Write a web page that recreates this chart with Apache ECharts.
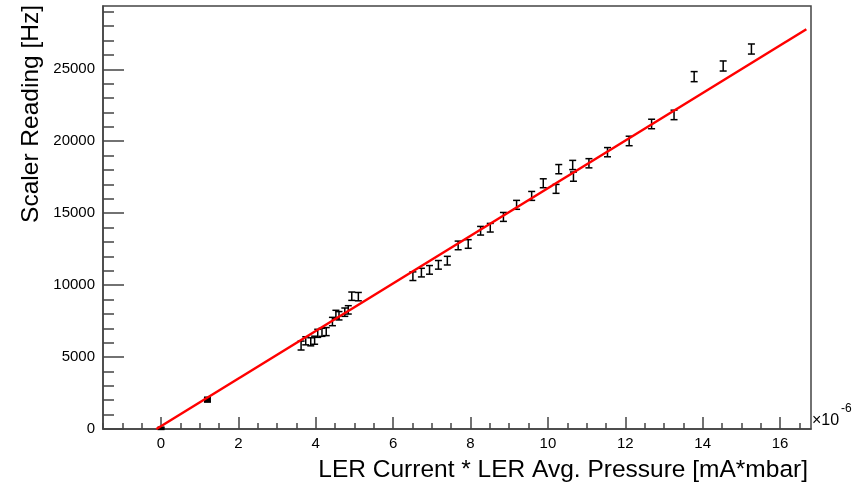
<!DOCTYPE html>
<html>
<head>
<meta charset="utf-8">
<script src="https://cdn.jsdelivr.net/npm/echarts@6/dist/echarts.min.js"></script>
<style>
html, body { margin: 0; padding: 0; background: #fff; }
#chart { width: 858px; height: 483px; }
</style>
</head>
<body>
<div id="chart"></div>
<script>
// data (x in units of 1e-6 mA*mbar)
var xs = [0, 1.20, 3.62, 3.74, 3.87, 3.97, 4.05, 4.16, 4.27, 4.43, 4.52, 4.60, 4.75, 4.84, 4.93, 5.10,
    6.51, 6.73, 6.94, 7.17, 7.40, 7.68, 7.94, 8.26, 8.51, 8.85, 9.19, 9.58, 9.88, 10.21, 10.28, 10.64, 10.66,
    11.06, 11.54, 12.10, 12.68, 13.26, 13.78, 14.53, 15.26];
var ys = [50, 2040, 5800, 6130, 6060, 6170, 6650, 6720, 6770, 7470, 7960, 7870, 8120, 8280, 9230, 9200,
    10620, 10870, 11060, 11410, 11700, 12760, 12860, 13780, 13990, 14740, 15580, 16200, 17080, 16690, 18060, 18350, 17540,
    18470, 19240, 20020, 21200, 21830, 24490, 25230, 26410];
var yErr = [80, 170, 310, 280, 280, 280, 280, 280, 280, 290, 290, 290, 290, 290, 290, 290,
    300, 300, 300, 300, 300, 300, 300, 300, 300, 310, 310, 310, 310, 310, 320, 320, 320,
    320, 320, 330, 330, 330, 350, 350, 350];
// fit line end points
var fitX = [-0.12, 16.68];
var fitY = [0, 27780];

var xMajor = [0, 2, 4, 6, 8, 10, 12, 14, 16];
var yMajor = [0, 5000, 10000, 15000, 20000, 25000];
var xMinor = [];
for (var i = -1.5; i <= 16.5; i += 0.5) xMinor.push(i);
var yMinor = [];
for (var j = 1000; j <= 29000; j += 1000) yMinor.push(j);

var points = xs.map(function (x, k) { return [x, ys[k], yErr[k]]; });
var fitLine = fitX.map(function (x, k) { return [x, fitY[k]]; });

var frameColor = '#444';
var font = '"Liberation Sans", Arial, Helvetica, sans-serif';

var chart = echarts.init(document.getElementById('chart'));
var option = {
    animation: false,
    grid: {
        left: 103, right: 47, top: 6, bottom: 54,
        show: true, borderColor: frameColor, borderWidth: 1.5
    },
    xAxis: [
        {
            type: 'value', min: -1.5, max: 16.8, position: 'bottom',
            axisLine: { show: true, onZero: false, lineStyle: { color: frameColor, width: 1.5 } },
            axisTick: { show: true, inside: true, length: 12, customValues: xMajor, lineStyle: { color: frameColor, width: 1.5 } },
            axisLabel: { customValues: xMajor, margin: 7, color: '#000', fontSize: 15, fontFamily: font },
            splitLine: { show: false }
        },
        {
            type: 'value', min: -1.5, max: 16.8, position: 'bottom',
            axisLine: { show: false, onZero: false },
            axisTick: { show: true, inside: true, length: 6, customValues: xMinor, lineStyle: { color: frameColor, width: 1.5 } },
            axisLabel: { show: false },
            splitLine: { show: false }
        }
    ],
    yAxis: [
        {
            type: 'value', min: 0, max: 29400, position: 'left',
            axisLine: { show: true, onZero: false, lineStyle: { color: frameColor, width: 1.5 } },
            axisTick: { show: true, inside: true, length: 21, customValues: yMajor, lineStyle: { color: frameColor, width: 1.5 } },
            axisLabel: {
                customValues: yMajor, margin: 8, color: '#000', fontSize: 15, fontFamily: font,
                formatter: function (v) { return String(v); }
            },
            splitLine: { show: false }
        },
        {
            type: 'value', min: 0, max: 29400, position: 'left',
            axisLine: { show: false, onZero: false },
            axisTick: { show: true, inside: true, length: 11, customValues: yMinor, lineStyle: { color: frameColor, width: 1.5 } },
            axisLabel: { show: false },
            splitLine: { show: false }
        }
    ],
    graphic: [
        {
            type: 'text', x: 31, y: 5, rotation: Math.PI / 2,
            style: { text: 'Scaler Reading [Hz]', font: '24.5px ' + font, fill: '#000', textAlign: 'right', textVerticalAlign: 'middle' }
        },
        {
            type: 'text', x: 808, y: 470,
            style: { text: 'LER Current * LER Avg. Pressure [mA*mbar]', font: '24.5px ' + font, fill: '#000', textAlign: 'right', textVerticalAlign: 'middle' }
        },
        {
            type: 'text', x: 812, y: 421,
            style: { text: '×10', font: '16px ' + font, fill: '#000', textAlign: 'left', textVerticalAlign: 'middle' }
        },
        {
            type: 'text', x: 841, y: 409,
            style: { text: '-6', font: '12px ' + font, fill: '#000', textAlign: 'left', textVerticalAlign: 'middle' }
        }
    ],
    series: [
        {
            type: 'custom',
            data: points,
            z: 2,
            renderItem: function (params, api) {
                var x = api.value(0), y = api.value(1), e = api.value(2);
                var lo = api.coord([x, y - e]);
                var hi = api.coord([x, y + e]);
                var w = 3.5;
                var st = { stroke: '#000', lineWidth: 1.5 };
                var kids = [
                    { type: 'line', shape: { x1: lo[0], y1: lo[1], x2: hi[0], y2: hi[1] }, style: st },
                    { type: 'line', shape: { x1: lo[0] - w, y1: lo[1], x2: lo[0] + w, y2: lo[1] }, style: st },
                    { type: 'line', shape: { x1: hi[0] - w, y1: hi[1], x2: hi[0] + w, y2: hi[1] }, style: st }
                ];
                // very short bars: caps merge into a solid block
                if (lo[1] - hi[1] < 6) {
                    kids.push({ type: 'rect', shape: { x: hi[0] - w, y: hi[1], width: 2 * w, height: lo[1] - hi[1] }, style: { fill: '#000' } });
                }
                return { type: 'group', children: kids };
            }
        },
        {
            type: 'line',
            data: fitLine,
            z: 3,
            symbol: 'none',
            lineStyle: { color: '#ff0000', width: 2.5 }
        }
    ]
};
chart.setOption(option);
window.addEventListener('resize', function () {
    chart.resize();
});
</script>
</body>
</html>
